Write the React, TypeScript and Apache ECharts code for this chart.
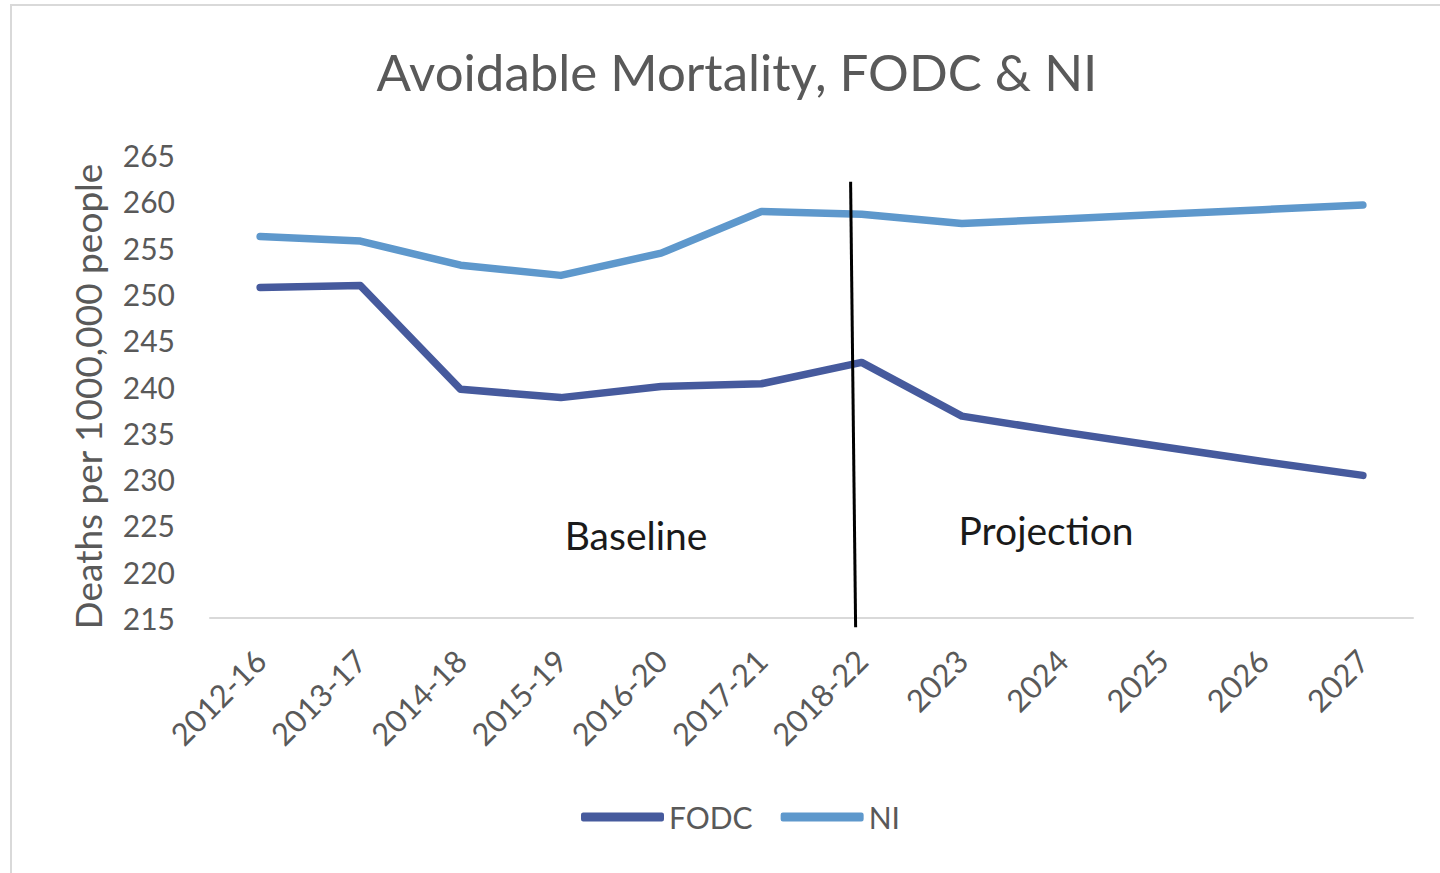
import React, { useEffect, useRef } from "react";
import * as echarts from "echarts";

const categories = ["2012-16", "2013-17", "2014-18", "2015-19", "2016-20", "2017-21", "2018-22", "2023", "2024", "2025", "2026", "2027"];
const fodc = [250.7, 250.9, 239.7, 238.8, 240.0, 240.3, 242.6, 236.8, 235.1, 233.5, 231.9, 230.4];
const ni = [256.2, 255.7, 253.1, 252.0, 254.4, 258.9, 258.6, 257.6, 258.1, 258.6, 259.1, 259.6];
const yTicks = [215, 265, 5];
// divider line in category-index units / values
const divider = { topCat: 5.89, topVal: 262.1, botCat: 5.94, botVal: 214.0 };
const notes = [
  { text: "Baseline", cat: 3.75, val: 223.95 },
  { text: "Projection", cat: 7.84, val: 224.5 },
];

const FONT = "Lato, 'Open Sans', sans-serif";

export default function App() {
  const ref = useRef<HTMLDivElement>(null);
  useEffect(() => {
    if (!ref.current) return;
    const chart = echarts.init(ref.current, null, { renderer: "svg" });
    chart.setOption({
      animation: false,
      backgroundColor: "#ffffff",
      textStyle: { fontFamily: FONT },
      title: {
        text: "Avoidable Mortality, FODC & NI",
        left: 732,
        textAlign: "center",
        top: 41,
        textStyle: { fontFamily: FONT, fontSize: 51, fontWeight: "normal", color: "#595959" },
      },
      legend: {
        bottom: 36,
        left: 576,
        itemWidth: 83,
        itemHeight: 9,
        itemGap: 28,
        icon: "roundRect",
        textStyle: { fontFamily: FONT, fontSize: 30, color: "#595959" },
        data: ["FODC", "NI"],
      },
      grid: { left: 210, right: 27, top: 155, bottom: 255, containLabel: false },
      xAxis: {
        type: "category",
        data: categories,
        boundaryGap: true,
        axisLine: { show: true, lineStyle: { color: "#d9d9d9", width: 2 } },
        axisTick: { show: false },
        axisLabel: { rotate: 45, margin: 37, fontSize: 31, color: "#595959", fontFamily: FONT, interval: 0 },
      },
      yAxis: {
        type: "value",
        min: yTicks[0],
        max: yTicks[1],
        interval: yTicks[2],
        name: "Deaths per 1000,000 people",
        nameLocation: "middle",
        nameGap: 104,
        nameTextStyle: { fontFamily: FONT, fontSize: 37, color: "#595959", padding: [0, 20, 0, 0] },
        axisLine: { show: false },
        axisTick: { show: false },
        splitLine: { show: false },
        axisLabel: { fontSize: 30, color: "#595959", margin: 35, fontFamily: FONT },
      },
      series: [
        {
          name: "FODC",
          type: "line",
          data: fodc,
          showSymbol: false,
          symbol: "none",
          color: "#465A9D",
          lineStyle: { width: 7.5, color: "#465A9D", cap: "round", join: "round" },
        },
        {
          name: "NI",
          type: "line",
          data: ni,
          showSymbol: false,
          symbol: "none",
          color: "#5E98CC",
          lineStyle: { width: 7.5, color: "#5E98CC", cap: "round", join: "round" },
        },
      ],
    });

    const px = (cat: number, val: number) => {
      const i = Math.floor(cat);
      const f = cat - i;
      const a = chart.convertToPixel({ gridIndex: 0 }, [i, val]) as number[];
      const b = chart.convertToPixel({ gridIndex: 0 }, [i + 1, val]) as number[];
      return [a[0] + (b[0] - a[0]) * f, a[1]];
    };
    const t = px(divider.topCat, divider.topVal);
    const bt = px(divider.botCat, divider.botVal);
    chart.setOption({
      graphic: [
        {
          type: "rect",
          shape: { x: 11, y: 5, width: 1460, height: 900 },
          style: { fill: "none", stroke: "#d9d9d9", lineWidth: 2 },
          silent: true,
        },
        {
          type: "line",
          shape: { x1: t[0], y1: t[1], x2: bt[0], y2: bt[1] },
          style: { stroke: "#000000", lineWidth: 3 },
          z: 10,
        },
        ...notes.map((n) => {
          const p = px(n.cat, n.val);
          return {
            type: "text",
            x: p[0],
            y: p[1],
            style: {
              text: n.text,
              align: "center",
              verticalAlign: "middle",
              fontFamily: FONT,
              fontSize: 39,
              fill: "#1a1a1a",
            },
            z: 10,
          };
        }),
      ],
    });
    return () => chart.dispose();
  }, []);
  return <div ref={ref} style={{ position: "fixed", left: 0, top: 0, width: 1440, height: 873 }} />;
}
